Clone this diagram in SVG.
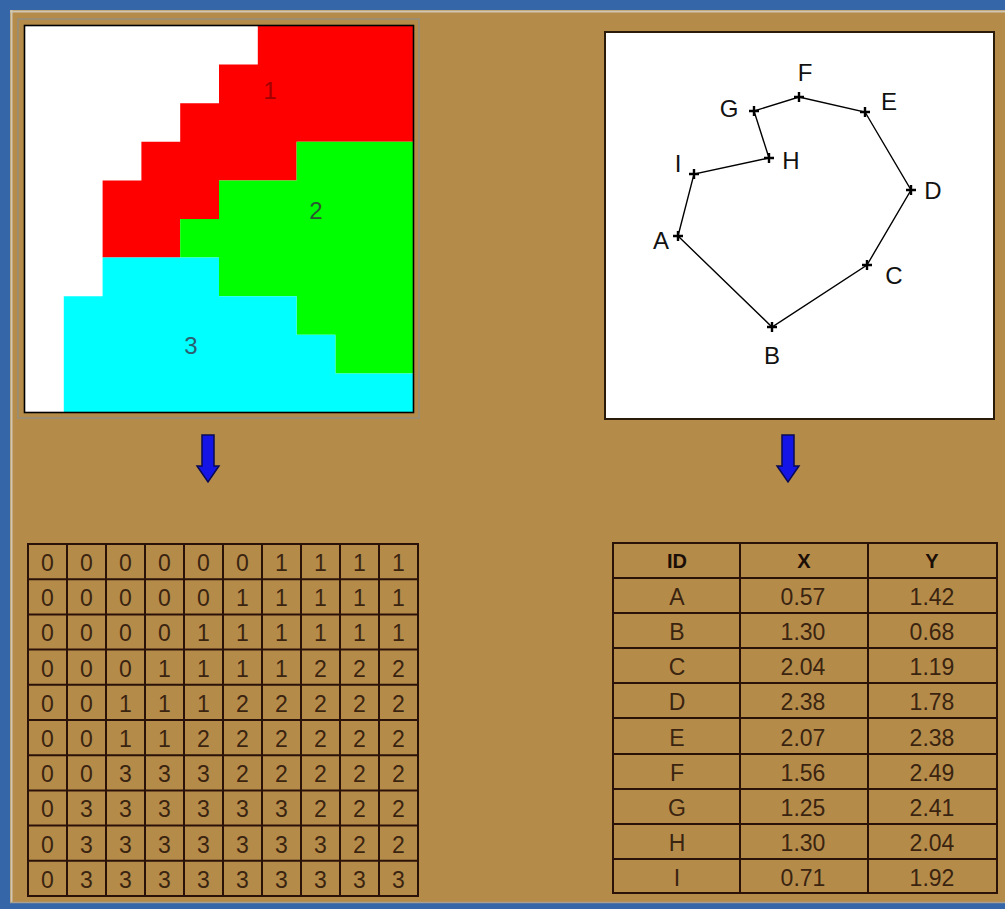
<svg xmlns="http://www.w3.org/2000/svg" width="1005" height="909" viewBox="0 0 1005 909">
<style>
.num{font-family:"Liberation Sans",Arial,sans-serif;font-size:23px;fill:#3a2410;text-anchor:middle}
.hdr{font-family:"Liberation Sans",Arial,sans-serif;font-size:20px;font-weight:bold;fill:#1a0e06;text-anchor:middle}
.lbl{font-family:"Liberation Sans",Arial,sans-serif;font-size:24px;fill:#111;text-anchor:middle}
.reg{font-family:"Liberation Sans",Arial,sans-serif;font-size:24px;text-anchor:middle}
.grid{stroke:#2a1208;stroke-width:2;fill:none}
.arrow{fill:#1414e6;stroke:#0a0a50;stroke-width:1.5}
.cross{stroke:#000;stroke-width:2.4}
</style>
<rect x="0" y="0" width="1005" height="909" fill="#3466a8"/>
<rect x="10" y="10" width="995" height="893" fill="#b58b4a"/>
<path d="M10 11.5H1005M11.5 10V903" stroke="#cfc6b4" stroke-width="2"/>
<path d="M10 902.5H1005" stroke="#a8a090" stroke-width="1.5"/>

<g id="raster">
<rect x="18" y="19" width="401" height="399" fill="none" stroke="#9c8c70" stroke-width="2"/>
<rect x="25" y="26" width="388" height="386" fill="#ffffff"/>
<polygon fill="#ff0000" points="257.8,26 413,26 413,141.8 296.6,141.8 296.6,180.4 219,180.4 219,219 180.2,219 180.2,257.6 102.6,257.6 102.6,180.4 141.4,180.4 141.4,141.8 180.2,141.8 180.2,103.2 219,103.2 219,64.6 257.8,64.6"/>
<polygon fill="#00ff00" points="296.6,141.8 413,141.8 413,373.4 335.4,373.4 335.4,334.8 296.6,334.8 296.6,296.2 219,296.2 219,257.6 180.2,257.6 180.2,219 219,219 219,180.4 296.6,180.4"/>
<polygon fill="#00ffff" points="102.6,257.6 219,257.6 219,296.2 296.6,296.2 296.6,334.8 335.4,334.8 335.4,373.4 413,373.4 413,412 63.8,412 63.8,296.2 102.6,296.2"/>
<rect x="24.5" y="25.5" width="389" height="387" fill="none" stroke="#000" stroke-width="1.6"/>
<text class="reg" x="270" y="99" fill="#a00000">1</text>
<text class="reg" x="316" y="219" fill="#2a5a30">2</text>
<text class="reg" x="191" y="354" fill="#2a6070">3</text>
</g>

<g id="vector">
<rect x="605" y="32" width="389" height="387" fill="#ffffff" stroke="#2a1a0a" stroke-width="2"/>
<polygon points="678,236 772,327 867,265 911,190 865,112 799,97 754,111 769,158 694,174" fill="none" stroke="#000" stroke-width="1.4"/>
<g class="cross">
<path d="M673 236h10M678 231v10"/>
<path d="M767 327h10M772 322v10"/>
<path d="M862 265h10M867 260v10"/>
<path d="M906 190h10M911 185v10"/>
<path d="M860 112h10M865 107v10"/>
<path d="M794 97h10M799 92v10"/>
<path d="M749 111h10M754 106v10"/>
<path d="M764 158h10M769 153v10"/>
<path d="M689 174h10M694 169v10"/>
</g>
<text class="lbl" x="661" y="249">A</text>
<text class="lbl" x="772" y="364">B</text>
<text class="lbl" x="894" y="284">C</text>
<text class="lbl" x="933" y="199">D</text>
<text class="lbl" x="889" y="110">E</text>
<text class="lbl" x="805" y="81">F</text>
<text class="lbl" x="729" y="117">G</text>
<text class="lbl" x="791" y="169">H</text>
<text class="lbl" x="678" y="172">I</text>
</g>

<g id="connectors">
<path class="arrow" d="M202 435H214V466H219L208 482L197 466H202Z"/>
<path class="arrow" d="M782 435H794V466H799L788 482L777 466H782Z"/>
</g>

<g id="raster-table">
<rect x="28" y="544" width="390" height="352" class="grid"/>
<path class="grid" d="M67 544V896M106 544V896M145 544V896M184 544V896M223 544V896M262 544V896M301 544V896M340 544V896M379 544V896M28 579.2H418M28 614.4H418M28 649.6H418M28 684.8H418M28 720H418M28 755.2H418M28 790.4H418M28 825.6H418M28 860.8H418"/>
<g class="num">
<text x="47.5" y="571">0</text><text x="86.5" y="571">0</text><text x="125.5" y="571">0</text><text x="164.5" y="571">0</text><text x="203.5" y="571">0</text><text x="242.5" y="571">0</text><text x="281.5" y="571">1</text><text x="320.5" y="571">1</text><text x="359.5" y="571">1</text><text x="398.5" y="571">1</text>
<text x="47.5" y="606.2">0</text><text x="86.5" y="606.2">0</text><text x="125.5" y="606.2">0</text><text x="164.5" y="606.2">0</text><text x="203.5" y="606.2">0</text><text x="242.5" y="606.2">1</text><text x="281.5" y="606.2">1</text><text x="320.5" y="606.2">1</text><text x="359.5" y="606.2">1</text><text x="398.5" y="606.2">1</text>
<text x="47.5" y="641.4">0</text><text x="86.5" y="641.4">0</text><text x="125.5" y="641.4">0</text><text x="164.5" y="641.4">0</text><text x="203.5" y="641.4">1</text><text x="242.5" y="641.4">1</text><text x="281.5" y="641.4">1</text><text x="320.5" y="641.4">1</text><text x="359.5" y="641.4">1</text><text x="398.5" y="641.4">1</text>
<text x="47.5" y="676.6">0</text><text x="86.5" y="676.6">0</text><text x="125.5" y="676.6">0</text><text x="164.5" y="676.6">1</text><text x="203.5" y="676.6">1</text><text x="242.5" y="676.6">1</text><text x="281.5" y="676.6">1</text><text x="320.5" y="676.6">2</text><text x="359.5" y="676.6">2</text><text x="398.5" y="676.6">2</text>
<text x="47.5" y="711.8">0</text><text x="86.5" y="711.8">0</text><text x="125.5" y="711.8">1</text><text x="164.5" y="711.8">1</text><text x="203.5" y="711.8">1</text><text x="242.5" y="711.8">2</text><text x="281.5" y="711.8">2</text><text x="320.5" y="711.8">2</text><text x="359.5" y="711.8">2</text><text x="398.5" y="711.8">2</text>
<text x="47.5" y="747">0</text><text x="86.5" y="747">0</text><text x="125.5" y="747">1</text><text x="164.5" y="747">1</text><text x="203.5" y="747">2</text><text x="242.5" y="747">2</text><text x="281.5" y="747">2</text><text x="320.5" y="747">2</text><text x="359.5" y="747">2</text><text x="398.5" y="747">2</text>
<text x="47.5" y="782.2">0</text><text x="86.5" y="782.2">0</text><text x="125.5" y="782.2">3</text><text x="164.5" y="782.2">3</text><text x="203.5" y="782.2">3</text><text x="242.5" y="782.2">2</text><text x="281.5" y="782.2">2</text><text x="320.5" y="782.2">2</text><text x="359.5" y="782.2">2</text><text x="398.5" y="782.2">2</text>
<text x="47.5" y="817.4">0</text><text x="86.5" y="817.4">3</text><text x="125.5" y="817.4">3</text><text x="164.5" y="817.4">3</text><text x="203.5" y="817.4">3</text><text x="242.5" y="817.4">3</text><text x="281.5" y="817.4">3</text><text x="320.5" y="817.4">2</text><text x="359.5" y="817.4">2</text><text x="398.5" y="817.4">2</text>
<text x="47.5" y="852.6">0</text><text x="86.5" y="852.6">3</text><text x="125.5" y="852.6">3</text><text x="164.5" y="852.6">3</text><text x="203.5" y="852.6">3</text><text x="242.5" y="852.6">3</text><text x="281.5" y="852.6">3</text><text x="320.5" y="852.6">3</text><text x="359.5" y="852.6">2</text><text x="398.5" y="852.6">2</text>
<text x="47.5" y="887.8">0</text><text x="86.5" y="887.8">3</text><text x="125.5" y="887.8">3</text><text x="164.5" y="887.8">3</text><text x="203.5" y="887.8">3</text><text x="242.5" y="887.8">3</text><text x="281.5" y="887.8">3</text><text x="320.5" y="887.8">3</text><text x="359.5" y="887.8">3</text><text x="398.5" y="887.8">3</text>
</g>
</g>

<g id="vector-table">
<rect x="613" y="543" width="384" height="350" class="grid"/>
<path class="grid" d="M740 543V893M868 543V893M613 578H997M613 613H997M613 648H997M613 683H997M613 718H997M613 754H997M613 789H997M613 824H997M613 859H997"/>
<text class="hdr" x="677" y="568">ID</text>
<text class="hdr" x="804" y="568">X</text>
<text class="hdr" x="932" y="568">Y</text>
<g class="num">
<text x="677" y="605">A</text><text x="803" y="605">0.57</text><text x="932" y="605">1.42</text>
<text x="677" y="640">B</text><text x="803" y="640">1.30</text><text x="932" y="640">0.68</text>
<text x="677" y="675">C</text><text x="803" y="675">2.04</text><text x="932" y="675">1.19</text>
<text x="677" y="710">D</text><text x="803" y="710">2.38</text><text x="932" y="710">1.78</text>
<text x="677" y="746">E</text><text x="803" y="746">2.07</text><text x="932" y="746">2.38</text>
<text x="677" y="781">F</text><text x="803" y="781">1.56</text><text x="932" y="781">2.49</text>
<text x="677" y="816">G</text><text x="803" y="816">1.25</text><text x="932" y="816">2.41</text>
<text x="677" y="851">H</text><text x="803" y="851">1.30</text><text x="932" y="851">2.04</text>
<text x="677" y="886">I</text><text x="803" y="886">0.71</text><text x="932" y="886">1.92</text>
</g>
</g>
</svg>
